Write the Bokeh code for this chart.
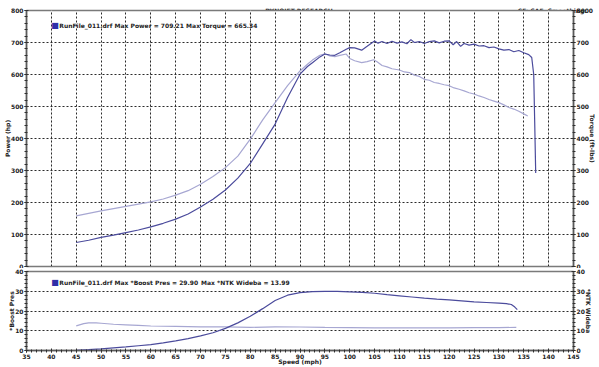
from bokeh.plotting import figure
from bokeh.models import Range1d, LinearAxis, SingleIntervalTicker, Label, Grid, Div
from bokeh.layouts import column
from bokeh.embed import file_html
from bokeh.resources import INLINE

# ---------------- data ----------------
power_speed = [45, 47.5, 50, 52.5, 55, 57.5, 60, 62.5, 65, 67.5, 70, 72.5, 75, 77.5, 80,
               82.5, 85, 87.5, 90, 91.5, 92.5, 94, 95, 96, 97, 98, 99.3, 100, 101, 102.4,
               103.5, 105, 105.7, 106.5, 107.5, 108.5, 109.5, 110.5, 111.5, 112.3, 113, 114,
               115, 116, 117, 118, 119, 120, 120.8, 121.5, 122.3, 123, 124, 125, 126, 127,
               128, 129, 130, 131, 132, 133, 134, 135, 136, 136.6, 137, 137.2, 137.4]
power_hp = [75, 82, 91, 98, 106, 114, 124, 135, 148, 164, 186, 210, 239, 276, 322,
            383, 445, 528, 601, 625, 637, 655, 664, 661, 660, 668, 679, 684, 683, 676,
            688, 705, 698, 703, 697, 704, 698, 702, 696, 709, 700, 703,
            697, 703, 705, 699, 704, 705, 693, 703, 688, 697, 692, 695, 689, 690,
            684, 686, 680, 676, 678, 671, 675, 668, 662, 653, 600, 450, 292]

torque_speed = [45, 47.5, 50, 52.5, 55, 57.5, 60, 62.5, 65, 67.5, 70, 72.5, 75, 77.5, 80,
                82.5, 85, 87.5, 90, 91.5, 92.5, 94, 95, 96, 97, 98, 99.3, 100, 101, 102.4,
                103.5, 104.8, 105.5, 106.5, 107.5, 108.5, 110, 111, 112, 113, 114, 115, 116,
                117, 118, 119, 120, 121, 122, 123, 124, 125, 126, 127, 128, 129, 130, 131,
                132, 133, 134, 135, 135.8]
torque_ftlb = [158, 166, 174, 181, 188, 195, 202, 211, 223, 237, 257, 281, 309, 345, 398,
               458, 512, 565, 611, 632, 645, 660, 665, 658, 656, 660, 664, 650, 643, 637,
               640, 646, 640, 628, 624, 618, 614, 608, 606, 598, 594, 585, 582,
               575, 572, 568, 565, 558, 554, 549, 543, 539, 533, 528, 522, 517, 512, 505,
               497, 492, 485, 477, 470]

boost_speed = [45, 47.5, 50, 52.5, 55, 57.5, 60, 62.5, 65, 67.5, 70, 72.5, 75, 77.5, 80,
               82.5, 85, 87.5, 90, 92.5, 95, 97.5, 100, 102.5, 105, 107.5, 110, 112.5, 115,
               117.5, 120, 122.5, 125, 127.5, 130, 131.5, 132.5, 133.2, 133.7]
boost_psi = [0.1, 0.4, 0.8, 1.3, 1.8, 2.4, 3.0, 3.9, 4.9, 6.0, 7.4, 9.0, 11.2, 14.0, 17.3,
             21.2, 25.3, 28.0, 29.3, 29.8, 29.9, 29.9, 29.7, 29.4, 29.0, 28.3, 27.7, 27.1, 26.5,
             26.0, 25.6, 25.1, 24.6, 24.3, 24.0, 23.7, 23.3, 22.0, 20.7]

ntk_speed = [45, 46.5, 47.5, 49, 50, 52.5, 55, 57.5, 60, 65, 70, 75, 80, 85, 90, 95, 100,
             105, 110, 115, 120, 125, 130, 133.5]
ntk_afr = [12.5, 13.6, 14.0, 14.0, 13.8, 13.3, 13.0, 12.7, 12.4, 12.2, 12.0, 12.0, 11.7,
           12.0, 11.9, 11.7, 11.6, 11.5, 11.5, 11.5, 11.5, 11.6, 11.6, 11.7]

title_text = "DYNOJET RESEARCH"
cf_text = "CF: SAE&nbsp;&nbsp;Smoothing: 0"
top_legend_a = "RunFile_011.drf Max Power = 709.21"
top_legend_b = "Max Torque = 665.34"
bot_legend_a = "RunFile_011.drf Max *Boost Pres = 29.90"
bot_legend_b = "Max *NTK Wideba = 13.99"
x_title = "Speed (mph)"
y1_title = "Power (hp)"
y1r_title = "Torque (ft-lbs)"
y2_title = "*Boost Pres"
y2r_title = "*NTK Wideba"

# ---------------- styling ----------------
FONT = "DejaVu Sans"
W = 599
DARK = "#4b4b9c"
LIGHT = "#a7a7d2"
GRID = "#2a2a2a"
AXC = "#5a5a5a"
TXT = "#222222"


def style_axis(ax, interval, label, label_standoff):
    ax.ticker = SingleIntervalTicker(interval=interval, num_minor_ticks=5)
    ax.axis_label = label
    ax.axis_label_text_font = FONT
    ax.axis_label_text_font_size = "6px"
    ax.axis_label_text_font_style = "bold"
    ax.axis_label_text_color = TXT
    ax.axis_label_standoff = label_standoff
    ax.major_label_text_font = FONT
    ax.major_label_text_font_size = "6px"
    ax.major_label_text_font_style = "bold"
    ax.major_label_text_color = TXT
    ax.major_label_standoff = 1
    ax.major_tick_in = 2
    ax.major_tick_out = 2
    ax.minor_tick_in = 1
    ax.minor_tick_out = 2
    ax.axis_line_color = AXC
    ax.axis_line_width = 1.5
    ax.major_tick_line_color = "#303030"
    ax.minor_tick_line_color = "#303030"


def style_fig(p):
    p.outline_line_color = "#7a7a7a"
    p.outline_line_width = 1.5
    p.background_fill_color = "white"
    p.border_fill_color = "white"
    p.add_layout(Grid(dimension=0, ticker=SingleIntervalTicker(interval=5),
                      grid_line_color=GRID, grid_line_dash="2 2", grid_line_width=1))


def add_text(p, x, y, text, align="left", size="6px", color=TXT):
    p.add_layout(Label(x=x, y=y, text=text, text_font=FONT, text_font_size=size,
                       text_font_style="bold", text_color=color, text_align=align,
                       text_baseline="middle"))


x_range = Range1d(35, 145)

# ---------------- header (title + CF text) ----------------
header_html = (
    '<div style="position:relative;width:599px;height:6px;overflow:visible;'
    "font-family:'DejaVu Sans';font-weight:bold;font-size:6px;line-height:6px;color:#222222;\">"
    '<span style="position:absolute;left:0;top:2px;width:598px;text-align:center;white-space:nowrap;">'
    + title_text + '</span>'
    '<span style="position:absolute;right:6px;top:2px;white-space:nowrap;">'
    + cf_text + '</span></div>'
)
header = Div(text=header_html, width=W, height=6, margin=0)

# ---------------- top panel ----------------
p1 = figure(width=W, height=262, x_range=x_range, y_range=Range1d(0, 800),
            output_backend="svg", toolbar_location=None, x_axis_location=None,
            min_border_top=4, min_border_bottom=2, min_border_left=24, min_border_right=24)
style_fig(p1)
p1.border_fill_color = None
style_axis(p1.yaxis[0], 100, y1_title, -3)
r_ax1 = LinearAxis()
style_axis(r_ax1, 100, y1r_title, -3)
p1.add_layout(r_ax1, "right")
p1.ygrid.ticker = SingleIntervalTicker(interval=100)
p1.ygrid.grid_line_color = GRID
p1.ygrid.grid_line_dash = "2 2"

p1.line(torque_speed, torque_ftlb, line_color=LIGHT, line_width=1.2)
p1.line(power_speed, power_hp, line_color=DARK, line_width=1.2)

add_text(p1, 40.75, 752, "\u25a0", align="center", size="8px", color="#2f2fa8")
add_text(p1, 41.6, 752, top_legend_a)
add_text(p1, 67.1, 752, top_legend_b)

# ---------------- bottom panel ----------------
p2 = figure(width=W, height=99, x_range=x_range, y_range=Range1d(0, 40),
            output_backend="svg", toolbar_location=None,
            min_border_top=3, min_border_bottom=16, min_border_left=24, min_border_right=24)
style_fig(p2)
style_axis(p2.yaxis[0], 10, y2_title, -3)
r_ax2 = LinearAxis()
style_axis(r_ax2, 10, y2r_title, -3)
p2.add_layout(r_ax2, "right")
style_axis(p2.xaxis[0], 5, x_title, -4)
p2.xgrid.visible = False
p2.ygrid.ticker = SingleIntervalTicker(interval=10)
p2.ygrid.grid_line_color = GRID
p2.ygrid.grid_line_dash = "2 2"

p2.line(ntk_speed, ntk_afr, line_color=LIGHT, line_width=1.2)
p2.line(boost_speed, boost_psi, line_color=DARK, line_width=1.2)

add_text(p2, 40.75, 34.5, "\u25a0", align="center", size="8px", color="#2f2fa8")
add_text(p2, 41.6, 34.5, bot_legend_a)
add_text(p2, 70.1, 34.5, bot_legend_b)

layout = column(header, p1, p2, spacing=0)
open("out.html", "w").write(file_html(layout, INLINE))
